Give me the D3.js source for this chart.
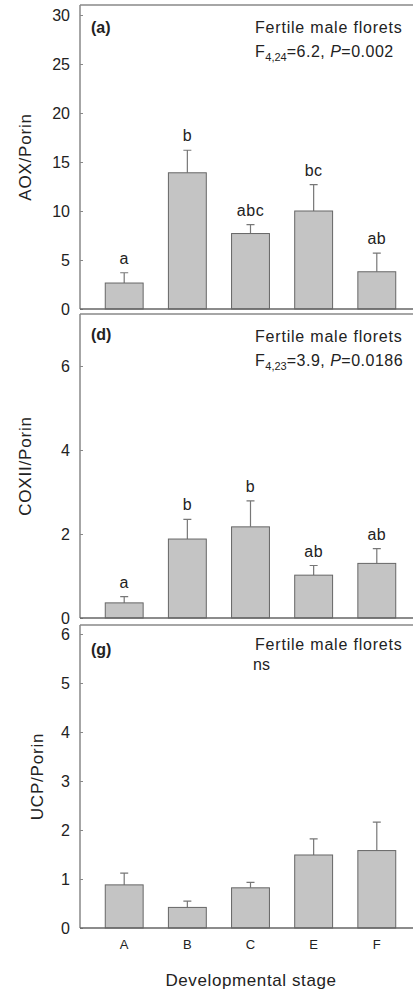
<!DOCTYPE html>
<html>
<head>
<meta charset="utf-8">
<script src="https://cdn.jsdelivr.net/npm/d3@7"></script>
<style>
  body { margin: 0; background: #fff; }
  svg text { font-family: "Liberation Sans", Arial, sans-serif; fill: #222; }
</style>
</head>
<body>
<div id="chart"></div>
<script>
// developmental stages
var stages = ["A", "B", "C", "E", "F"];

// (a) AOX/Porin
var aoxMean = [2.65, 13.9, 7.7, 10.0, 3.8];
var aoxErr = [1.05, 2.3, 0.9, 2.7, 1.9];
var aoxLetters = ["a", "b", "abc", "bc", "ab"];
var aoxTicks = [0, 5, 10, 15, 20, 25, 30];

// (d) COXII/Porin
var coxMean = [0.36, 1.88, 2.17, 1.02, 1.30];
var coxErr = [0.15, 0.47, 0.62, 0.23, 0.35];
var coxLetters = ["a", "b", "b", "ab", "ab"];
var coxTicks = [0, 2, 4, 6];

// (g) UCP/Porin
var ucpMean = [0.88, 0.42, 0.82, 1.49, 1.58];
var ucpErr = [0.24, 0.13, 0.11, 0.33, 0.58];
var ucpTicks = [0, 1, 2, 3, 4, 5, 6];

var W = 413, H = 989;
var svg = d3.select("#chart").append("svg")
    .attr("width", W)
    .attr("height", H);

var x = d3.scaleBand()
    .domain(stages)
    .range([80, 421])
    .paddingInner(0.4)
    .paddingOuter(0.4);

var panels = [
    {tag: "(a)", ylab: "AOX/Porin", labX: 25, mean: aoxMean, err: aoxErr, letters: aoxLetters,
     ticks: aoxTicks, top: 5, zero: 309, tickPx: [309, 15], tickVal: [0, 30],
     line2: ["F", "4,24", "=6.2, ", "P", "=0.002"], textY: [33, 57], tagY: 33},
    {tag: "(d)", ylab: "COXII/Porin", labX: 25, mean: coxMean, err: coxErr, letters: coxLetters,
     ticks: coxTicks, top: 314, zero: 618, tickPx: [618, 366], tickVal: [0, 6],
     line2: ["F", "4,23", "=3.9, ", "P", "=0.0186"], textY: [342, 366], tagY: 340},
    {tag: "(g)", ylab: "UCP/Porin", labX: 37, mean: ucpMean, err: ucpErr, letters: null,
     ticks: ucpTicks, top: 625, zero: 928, tickPx: [928, 634], tickVal: [0, 6],
     line2: null, ns: true, textY: [650, 670], tagY: 655}
];

panels.forEach(function (p) {
    var y = d3.scaleLinear().domain(p.tickVal).range(p.tickPx);
    var g = svg.append("g");

    // frame: top + left
    g.append("line").attr("x1", 80).attr("x2", W).attr("y1", p.top).attr("y2", p.top)
        .attr("stroke", "#888").attr("stroke-width", 1.5);

    // y axis
    var ax = g.append("g")
        .attr("transform", "translate(80,0)")
        .call(d3.axisLeft(y).tickValues(p.ticks).tickFormat(d3.format("d"))
            .tickSizeInner(-3).tickSizeOuter(0).tickPadding(10));
    ax.select(".domain").remove();
    ax.selectAll(".tick line").attr("stroke", "#888");
    ax.selectAll(".tick text").style("font-size", "16px").attr("fill", "#222");
    g.append("line").attr("x1", 80).attr("x2", 80).attr("y1", p.top).attr("y2", p.zero)
        .attr("stroke", "#888").attr("stroke-width", 1.5);

    // error bars (upper only)
    g.selectAll(".err").data(p.mean).enter().append("path")
        .attr("d", function (d, i) {
            var cx = x(stages[i]) + x.bandwidth() / 2;
            var yt = y(d + p.err[i]);
            return "M" + cx + "," + y(d) + "V" + yt + "M" + (cx - 4) + "," + yt + "H" + (cx + 4);
        })
        .attr("stroke", "#777").attr("stroke-width", 1.2).attr("fill", "none");

    // bars
    g.selectAll(".bar").data(p.mean).enter().append("rect")
        .attr("x", function (d, i) { return x(stages[i]); })
        .attr("y", function (d) { return y(d); })
        .attr("width", x.bandwidth())
        .attr("height", function (d) { return y(0) - y(d); })
        .attr("fill", "#c4c4c4")
        .attr("stroke", "#666").attr("stroke-width", 1);

    // zero line
    g.append("line").attr("x1", 80).attr("x2", W).attr("y1", p.zero).attr("y2", p.zero)
        .attr("stroke", "#666").attr("stroke-width", 1.5);

    // significance letters
    if (p.letters) {
        g.selectAll(".lt").data(p.letters).enter().append("text")
            .attr("x", function (d, i) { return x(stages[i]) + x.bandwidth() / 2; })
            .attr("y", function (d, i) { return y(p.mean[i] + p.err[i]) - 9; })
            .attr("text-anchor", "middle")
            .style("font-size", "16px").style("letter-spacing", "0.5px")
            .text(function (d) { return d; });
    }

    // panel tag
    g.append("text").attr("x", 91).attr("y", p.tagY)
        .style("font-size", "16px").style("font-weight", "bold").text(p.tag);

    // annotation
    g.append("text").attr("x", 255).attr("y", p.textY[0])
        .style("font-size", "16px").style("letter-spacing", "0.8px").text("Fertile male florets");
    if (p.line2) {
        var t = g.append("text").attr("x", 255).attr("y", p.textY[1])
            .style("font-size", "16px").style("letter-spacing", "0.5px");
        t.append("tspan").text(p.line2[0]);
        t.append("tspan").attr("dy", 4).style("font-size", "11px").style("letter-spacing", "0px").text(p.line2[1]);
        t.append("tspan").attr("dy", -4).text(p.line2[2]);
        t.append("tspan").style("font-style", "italic").text(p.line2[3]);
        t.append("tspan").text(p.line2[4]);
    } else if (p.ns) {
        g.append("text").attr("x", 253).attr("y", p.textY[1]).style("font-size", "16px").text("ns");
    }

    // y label
    g.append("text")
        .attr("transform", "translate(" + p.labX + "," + ((p.top + p.zero) / 2) + ") rotate(-90)")
        .attr("text-anchor", "middle").attr("dy", "0.35em")
        .style("font-size", "17px").style("letter-spacing", "0.8px").text(p.ylab);
});

// x axis labels on bottom panel
svg.append("g").selectAll("text").data(stages).enter().append("text")
    .attr("x", function (d) { return x(d) + x.bandwidth() / 2; })
    .attr("y", 949)
    .attr("text-anchor", "middle")
    .style("font-size", "13px")
    .text(function (d) { return d; });

svg.append("text").attr("x", 251).attr("y", 986)
    .attr("text-anchor", "middle").style("font-size", "17px").style("letter-spacing", "0.6px")
    .text("Developmental stage");
</script>
</body>
</html>
